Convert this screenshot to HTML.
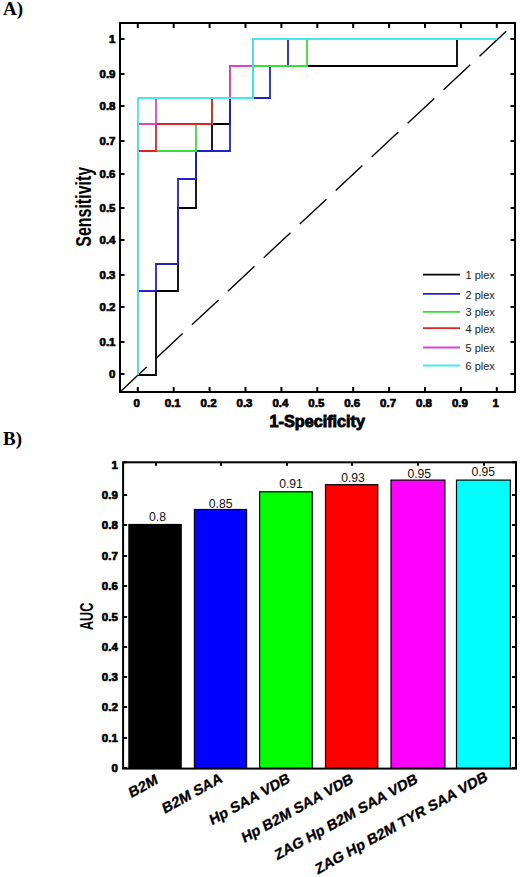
<!DOCTYPE html>
<html><head><meta charset="utf-8"><style>
html,body{margin:0;padding:0;background:#fff;width:520px;height:877px;overflow:hidden;position:relative}
</style></head><body>
<svg width="520" height="877" viewBox="0 0 520 877" style="position:absolute;left:0;top:0">
<rect width="520" height="877" fill="#fff"/>
<text x="3" y="14.6" font-family="Liberation Serif, serif" font-weight="bold" font-size="19">A)</text>
<text x="3" y="444.6" font-family="Liberation Serif, serif" font-weight="bold" font-size="19">B)</text>
<line x1="120" y1="392" x2="515" y2="23" stroke="#000" stroke-width="1.4" stroke-dasharray="36.5 12.7"/>
<polyline points="138,375 156,375 156,291 178,291 178,208 196,208 196,151 212,151 212,124 230,124 230,98 253,98 253,66 457,66 457,39 497,39" fill="none" stroke="#000000" stroke-width="1.8" stroke-linejoin="miter"/>
<polyline points="138,375 138,291 156,291 156,264 178,264 178,179 196,179 196,151 230,151 230,98 270,98 270,66 288,66 288,39 497,39" fill="none" stroke="#2222cc" stroke-width="1.8" stroke-linejoin="miter"/>
<polyline points="138,375 138,151 196,151 196,124 212,124 212,98 253,98 253,66 307,66 307,39 497,39" fill="none" stroke="#36e036" stroke-width="1.8" stroke-linejoin="miter"/>
<polyline points="138,375 138,151 156,151 156,124 212,124 212,98 230,98 230,66 253,66 253,39 497,39" fill="none" stroke="#e02424" stroke-width="1.8" stroke-linejoin="miter"/>
<polyline points="138,375 138,124 156,124 156,98 230,98 230,66 253,66 253,39 497,39" fill="none" stroke="#d844d8" stroke-width="1.8" stroke-linejoin="miter"/>
<polyline points="138,375 138,98 253,98 253,39 497,39" fill="none" stroke="#44e8ee" stroke-width="1.8" stroke-linejoin="miter"/>
<rect x="120" y="23" width="395" height="369" fill="none" stroke="#000" stroke-width="2"/>
<path d="M137.8,392v-5M137.8,23v5M120,374.0h4.5M515,374.0h-4.5M173.7,392v-5M173.7,23v5M120,342.0h4.5M515,342.0h-4.5M209.6,392v-5M209.6,23v5M120,307.0h4.5M515,307.0h-4.5M245.5,392v-5M245.5,23v5M120,275.0h4.5M515,275.0h-4.5M281.4,392v-5M281.4,23v5M120,240.0h4.5M515,240.0h-4.5M317.3,392v-5M317.3,23v5M120,208.0h4.5M515,208.0h-4.5M353.2,392v-5M353.2,23v5M120,174.0h4.5M515,174.0h-4.5M389.1,392v-5M389.1,23v5M120,141.0h4.5M515,141.0h-4.5M425.0,392v-5M425.0,23v5M120,106.0h4.5M515,106.0h-4.5M460.9,392v-5M460.9,23v5M120,74.0h4.5M515,74.0h-4.5M496.8,392v-5M496.8,23v5M120,39.0h4.5M515,39.0h-4.5" stroke="#000" stroke-width="2" fill="none"/>
<g font-family="Liberation Sans, sans-serif" font-weight="bold" font-size="11.5" fill="#000" stroke="#000" stroke-width="0.7">
<text x="136.8" y="406.6" text-anchor="middle">0</text>
<text x="115.5" y="378.0" text-anchor="end">0</text>
<text x="172.7" y="406.6" text-anchor="middle">0.1</text>
<text x="115.5" y="346.0" text-anchor="end">0.1</text>
<text x="208.6" y="406.6" text-anchor="middle">0.2</text>
<text x="115.5" y="311.0" text-anchor="end">0.2</text>
<text x="244.5" y="406.6" text-anchor="middle">0.3</text>
<text x="115.5" y="279.0" text-anchor="end">0.3</text>
<text x="280.4" y="406.6" text-anchor="middle">0.4</text>
<text x="115.5" y="244.0" text-anchor="end">0.4</text>
<text x="316.3" y="406.6" text-anchor="middle">0.5</text>
<text x="115.5" y="212.0" text-anchor="end">0.5</text>
<text x="352.2" y="406.6" text-anchor="middle">0.6</text>
<text x="115.5" y="178.0" text-anchor="end">0.6</text>
<text x="388.1" y="406.6" text-anchor="middle">0.7</text>
<text x="115.5" y="145.0" text-anchor="end">0.7</text>
<text x="424.0" y="406.6" text-anchor="middle">0.8</text>
<text x="115.5" y="110.0" text-anchor="end">0.8</text>
<text x="459.9" y="406.6" text-anchor="middle">0.9</text>
<text x="115.5" y="78.0" text-anchor="end">0.9</text>
<text x="495.8" y="406.6" text-anchor="middle">1</text>
<text x="115.5" y="43.0" text-anchor="end">1</text>
</g>
<text x="317.3" y="427" text-anchor="middle" font-family="Liberation Sans, sans-serif" font-weight="bold" font-size="16.2" stroke="#000" stroke-width="0.9">1-Specificity</text>
<text transform="translate(90.8,206.8) rotate(-90) scale(1,1.36)" x="0" y="0" text-anchor="middle" font-family="Liberation Sans, sans-serif" font-weight="bold" font-size="16">Sensitivity</text>
<g font-family="Liberation Sans, sans-serif" font-size="11" fill="#222">
<line x1="423" y1="274.7" x2="460" y2="274.7" stroke="#000000" stroke-width="1.8"/>
<text x="465.5" y="279.3">1 plex</text>
<line x1="423" y1="293.9" x2="460" y2="293.9" stroke="#2222cc" stroke-width="1.8"/>
<text x="465.5" y="298.5">2 plex</text>
<line x1="423" y1="311.8" x2="460" y2="311.8" stroke="#36e036" stroke-width="1.8"/>
<text x="465.5" y="316.4">3 plex</text>
<line x1="423" y1="328.2" x2="460" y2="328.2" stroke="#e02424" stroke-width="1.8"/>
<text x="465.5" y="332.8">4 plex</text>
<line x1="423" y1="347.5" x2="460" y2="347.5" stroke="#d844d8" stroke-width="1.8"/>
<text x="465.5" y="352.1">5 plex</text>
<line x1="423" y1="365.5" x2="460" y2="365.5" stroke="#44e8ee" stroke-width="1.8"/>
<text x="465.5" y="370.1">6 plex</text>
</g>
<rect x="128.90" y="524.50" width="52.30" height="243.90" fill="#000000" stroke="#000" stroke-width="1.2"/>
<text x="157.5" y="520.8" text-anchor="middle" font-family="Liberation Sans, sans-serif" font-size="12.2" fill="#111">0.8</text>
<rect x="194.40" y="509.50" width="52.20" height="258.90" fill="#0000ff" stroke="#000" stroke-width="1.2"/>
<text x="220.6" y="507.5" text-anchor="middle" font-family="Liberation Sans, sans-serif" font-size="12.2" fill="#111">0.85</text>
<rect x="259.60" y="491.80" width="52.70" height="276.60" fill="#00ff00" stroke="#000" stroke-width="1.2"/>
<text x="291" y="488.1" text-anchor="middle" font-family="Liberation Sans, sans-serif" font-size="12.2" fill="#111">0.91</text>
<rect x="325.50" y="484.70" width="52.30" height="283.70" fill="#ff0000" stroke="#000" stroke-width="1.2"/>
<text x="353" y="482.2" text-anchor="middle" font-family="Liberation Sans, sans-serif" font-size="12.2" fill="#111">0.93</text>
<rect x="391.00" y="480.10" width="53.90" height="288.30" fill="#ff00ff" stroke="#000" stroke-width="1.2"/>
<text x="419.3" y="477.5" text-anchor="middle" font-family="Liberation Sans, sans-serif" font-size="12.2" fill="#111">0.95</text>
<rect x="456.50" y="480.10" width="53.90" height="288.30" fill="#00ffff" stroke="#000" stroke-width="1.2"/>
<text x="483.3" y="476.4" text-anchor="middle" font-family="Liberation Sans, sans-serif" font-size="12.2" fill="#111">0.95</text>
<rect x="123.1" y="462.3" width="392.9" height="306.3" fill="none" stroke="#000" stroke-width="2"/>
<path d="M123.1,768.0h4M516,768.0h-4M123.1,738.0h4M516,738.0h-4M123.1,707.0h4M516,707.0h-4M123.1,677.0h4M516,677.0h-4M123.1,647.0h4M516,647.0h-4M123.1,617.0h4M516,617.0h-4M123.1,586.0h4M516,586.0h-4M123.1,556.0h4M516,556.0h-4M123.1,525.0h4M516,525.0h-4M123.1,495.0h4M516,495.0h-4M123.1,462.3h4M516,462.3h-4M156,462.3v3.5M221,462.3v3.5M287,462.3v3.5M352,462.3v3.5M418,462.3v3.5M484,462.3v3.5" stroke="#000" stroke-width="2" fill="none"/>
<g font-family="Liberation Sans, sans-serif" font-weight="bold" font-size="11.5" fill="#000" stroke="#000" stroke-width="0.7">
<text x="117.8" y="772.3" text-anchor="end">0</text>
<text x="117.8" y="742.3" text-anchor="end">0.1</text>
<text x="117.8" y="711.3" text-anchor="end">0.2</text>
<text x="117.8" y="681.3" text-anchor="end">0.3</text>
<text x="117.8" y="651.3" text-anchor="end">0.4</text>
<text x="117.8" y="621.3" text-anchor="end">0.5</text>
<text x="117.8" y="590.3" text-anchor="end">0.6</text>
<text x="117.8" y="560.3" text-anchor="end">0.7</text>
<text x="117.8" y="529.3" text-anchor="end">0.8</text>
<text x="117.8" y="499.3" text-anchor="end">0.9</text>
<text x="117.8" y="468.6" text-anchor="end">1</text>
</g>
<text transform="translate(92.7,616.4) rotate(-90) scale(1,1.5)" text-anchor="middle" font-family="Liberation Sans, sans-serif" font-weight="bold" font-size="12.6">AUC</text>
<g font-family="Liberation Sans, sans-serif" font-weight="bold" font-size="14.9" fill="#000" stroke="#000" stroke-width="0.3">
<text transform="translate(158.6,783.1) rotate(-29) skewX(-10) scale(1,0.97)" text-anchor="end">B2M</text>
<text transform="translate(223.1,781.5) rotate(-29) skewX(-10) scale(1,0.97)" text-anchor="end">B2M SAA</text>
<text transform="translate(290.7,781.8) rotate(-29) skewX(-10) scale(1,0.97)" text-anchor="end">Hp SAA VDB</text>
<text transform="translate(354.0,782.2) rotate(-29) skewX(-10) scale(1,0.97)" text-anchor="end">Hp B2M SAA VDB</text>
<text transform="translate(418.3,782.2) rotate(-29) skewX(-10) scale(1,0.97)" text-anchor="end">ZAG Hp B2M SAA VDB</text>
<text transform="translate(488.3,780) rotate(-29) skewX(-10) scale(1,0.97)" text-anchor="end">ZAG Hp B2M TYR SAA VDB</text>
</g>
</svg>
</body></html>
